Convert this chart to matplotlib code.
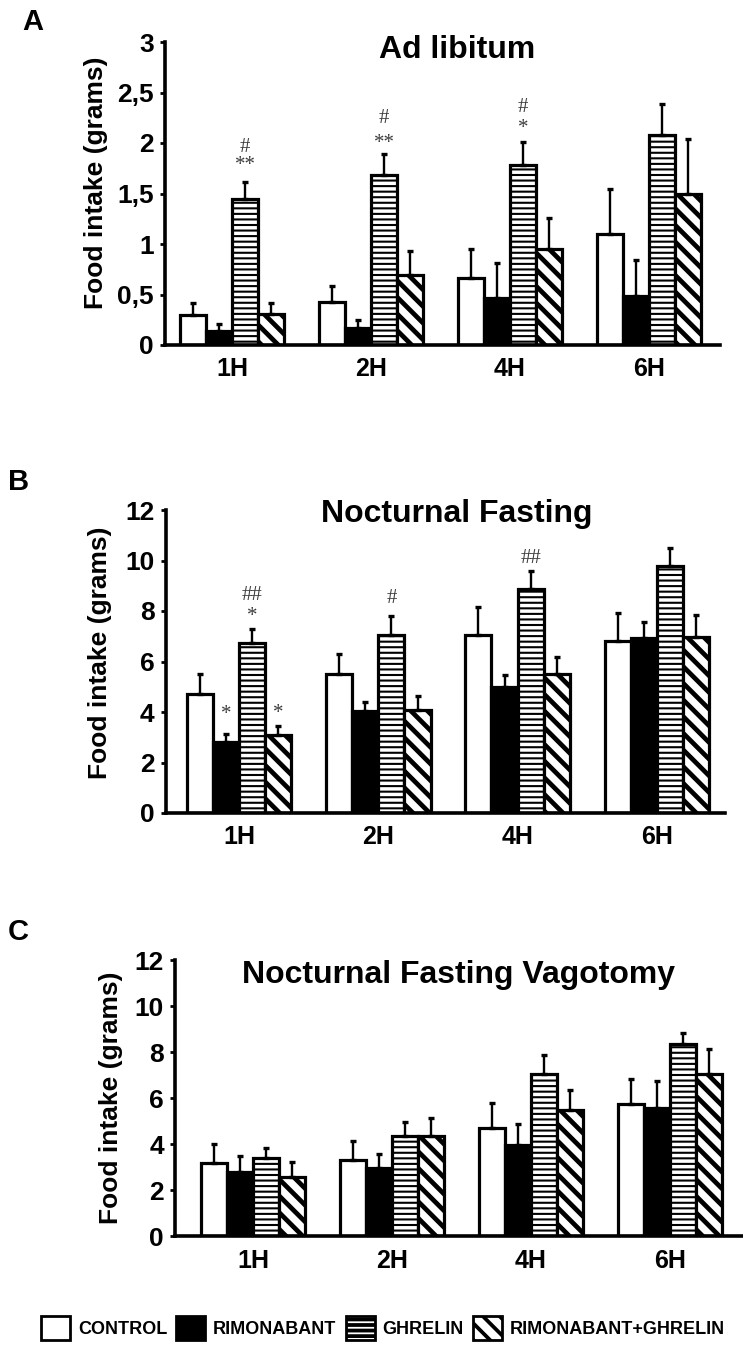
import matplotlib
matplotlib.use("Agg")
import matplotlib.pyplot as plt
from matplotlib.patches import Patch
import numpy as np

# ---------------- data ----------------
categories = ['1H', '2H', '4H', '6H']
groups = ['CONTROL', 'RIMONABANT', 'GHRELIN', 'RIMONABANT+GHRELIN']

# Panel A: Ad libitum
a_control = [0.30, 0.43, 0.66, 1.10]
a_rimon = [0.14, 0.17, 0.47, 0.49]
a_ghrelin = [1.45, 1.68, 1.78, 2.08]
a_rimghr = [0.31, 0.69, 0.95, 1.50]
a_control_err = [0.12, 0.15, 0.29, 0.44]
a_rimon_err = [0.07, 0.08, 0.34, 0.35]
a_ghrelin_err = [0.16, 0.21, 0.23, 0.31]
a_rimghr_err = [0.11, 0.24, 0.31, 0.54]

# Panel B: Nocturnal Fasting
b_control = [4.72, 5.51, 7.06, 6.82]
b_rimon = [2.80, 4.02, 4.98, 6.95]
b_ghrelin = [6.75, 7.06, 8.87, 9.78]
b_rimghr = [3.10, 4.06, 5.51, 6.99]
b_control_err = [0.79, 0.78, 1.08, 1.09]
b_rimon_err = [0.34, 0.37, 0.49, 0.63]
b_ghrelin_err = [0.54, 0.76, 0.72, 0.70]
b_rimghr_err = [0.36, 0.56, 0.66, 0.86]

# Panel C: Nocturnal Fasting Vagotomy
c_control = [3.17, 3.30, 4.68, 5.72]
c_rimon = [2.79, 2.94, 3.96, 5.57]
c_ghrelin = [3.37, 4.36, 7.05, 8.36]
c_rimghr = [2.57, 4.36, 5.50, 7.05]
c_control_err = [0.83, 0.82, 1.09, 1.09]
c_rimon_err = [0.70, 0.62, 0.91, 1.19]
c_ghrelin_err = [0.46, 0.61, 0.83, 0.48]
c_rimghr_err = [0.63, 0.76, 0.86, 1.07]

# significance marks: (category index, group index, text, y)
a_marks = [(0, 2, '**', 1.78), (0, 2, '#', 1.96),
           (1, 2, '**', 2.00), (1, 2, '#', 2.24),
           (2, 2, '*', 2.14), (2, 2, '#', 2.35)]
b_marks = [(0, 1, '*', 3.89), (0, 3, '*', 3.96),
           (0, 2, '*', 7.78), (0, 2, '##', 8.60),
           (1, 2, '#', 8.50), (2, 2, '##', 10.09)]
c_marks = []

a_yticks = [0, 0.5, 1, 1.5, 2, 2.5, 3]
a_yticklabels = ['0', '0,5', '1', '1,5', '2', '2,5', '3']
bc_yticks = [0, 2, 4, 6, 8, 10, 12]
bc_yticklabels = ['0', '2', '4', '6', '8', '10', '12']

titles = ['Ad libitum', 'Nocturnal Fasting', 'Nocturnal Fasting Vagotomy']
panel_letters = ['A', 'B', 'C']
ylabel = 'Food intake (grams)'

# ---------------- style ----------------
W, H = 743, 1352
DPI = 100
BOLD = ['Liberation Sans', 'DejaVu Sans']
SERIF = ['Liberation Serif', 'DejaVu Serif']

styles = [
    dict(facecolor='white', hatch=None, hlw=1.0),
    dict(facecolor='black', hatch=None, hlw=1.0),
    dict(facecolor='white', hatch='---', hlw=1.5),
    dict(facecolor='white', hatch='\\\\', hlw=3.4),
]

fig = plt.figure(figsize=(W / DPI, H / DPI), dpi=DPI)


def px_axes(l, r, t, b):
    return fig.add_axes([l / W, 1 - b / H, (r - l) / W, (b - t) / H])


def ftext(x, y, s, **kw):
    return fig.text(x / W, 1 - y / H, s, **kw)


panels = [
    dict(box=(165, 720, 42, 345), c0=232, sp=139.0, ylim=(0, 3),
         yt=a_yticks, ytl=a_yticklabels,
         data=[a_control, a_rimon, a_ghrelin, a_rimghr],
         err=[a_control_err, a_rimon_err, a_ghrelin_err, a_rimghr_err],
         marks=a_marks, title_pos=(457, 58), letter_pos=(22, 30),
         ylab_pos=(96, 183)),
    dict(box=(166, 725, 510, 813), c0=239, sp=139.3, ylim=(0, 12),
         yt=bc_yticks, ytl=bc_yticklabels,
         data=[b_control, b_rimon, b_ghrelin, b_rimghr],
         err=[b_control_err, b_rimon_err, b_ghrelin_err, b_rimghr_err],
         marks=b_marks, title_pos=(457, 522), letter_pos=(8, 490),
         ylab_pos=(100, 653)),
    dict(box=(175, 742, 960, 1236), c0=253, sp=139.0, ylim=(0, 12),
         yt=bc_yticks, ytl=bc_yticklabels,
         data=[c_control, c_rimon, c_ghrelin, c_rimghr],
         err=[c_control_err, c_rimon_err, c_ghrelin_err, c_rimghr_err],
         marks=c_marks, title_pos=(458, 983), letter_pos=(8, 940),
         ylab_pos=(111, 1098)),
]

bw = 0.188
offsets = np.array([-1.5, -0.5, 0.5, 1.5]) * bw
x = np.arange(len(categories))

for pi, p in enumerate(panels):
    l, r, t, b = p['box']
    ax = px_axes(l, r, t, b)
    ax.set_xlim((l - p['c0']) / p['sp'], (r - p['c0']) / p['sp'])
    ax.set_ylim(*p['ylim'])
    for gi in range(4):
        st = styles[gi]
        plt.rcParams['hatch.linewidth'] = st['hlw']
        bars = ax.bar(x + offsets[gi], p['data'][gi], width=bw,
                      facecolor=st['facecolor'], edgecolor='black',
                      linewidth=2.3, hatch=st['hatch'], zorder=2)
        for bar in bars:
            if hasattr(bar, 'set_hatch_linewidth'):
                bar.set_hatch_linewidth(st['hlw'])
        ax.errorbar(x + offsets[gi], p['data'][gi],
                    yerr=[np.zeros(4), p['err'][gi]], fmt='none',
                    ecolor='black', elinewidth=1.7, capsize=2.2,
                    capthick=2.4, zorder=3, clip_on=False)
    for ci, gi, s, yv in p['marks']:
        ax.text(x[ci] + offsets[gi], yv, s, ha='center', va='center',
                fontsize=15, color='#3c3c3c', family=SERIF, zorder=4)
    for side in ['top', 'right']:
        ax.spines[side].set_visible(False)
    for side in ['left', 'bottom']:
        ax.spines[side].set_linewidth(2.6)
    ax.set_yticks(p['yt'])
    ax.set_yticklabels(p['ytl'], fontsize=19, fontweight='bold', family=BOLD)
    ax.tick_params(axis='y', direction='out', length=3.6, width=2.0, pad=4.5)
    ax.set_xticks(x)
    ax.set_xticklabels(categories, fontsize=18, fontweight='bold', family=BOLD)
    ax.tick_params(axis='x', length=0, pad=9)
    ax.patch.set_visible(False)

    tx, ty = p['title_pos']
    ftext(tx, ty, titles[pi], ha='center', va='baseline', fontsize=23,
          fontweight='bold', family=BOLD)
    lx, ly = p['letter_pos']
    ftext(lx, ly, panel_letters[pi], ha='left', va='baseline', fontsize=21,
          fontweight='bold', family=BOLD)
    yx, yy = p['ylab_pos']
    ftext(yx, yy, ylabel, ha='center', va='center', rotation=90,
          fontsize=19, fontweight='bold', family=BOLD)

# legend
handles = []
for gi in range(4):
    st = styles[gi]
    plt.rcParams['hatch.linewidth'] = st['hlw'] * 0.8
    h = Patch(facecolor=st['facecolor'], edgecolor='black', linewidth=2.0,
              hatch=st['hatch'], label=groups[gi])
    if hasattr(h, 'set_hatch_linewidth'):
        h.set_hatch_linewidth(st['hlw'] * 0.8)
    handles.append(h)
leg = fig.legend(handles=handles, loc='center', bbox_to_anchor=(383 / W, 1 - 1328 / H),
                 ncol=4, frameon=False, handlelength=1.6, handleheight=1.6,
                 handletextpad=0.45, columnspacing=0.5,
                 prop=dict(family=BOLD, weight='bold', size=13))

fig.savefig('out.png', dpi=DPI)
